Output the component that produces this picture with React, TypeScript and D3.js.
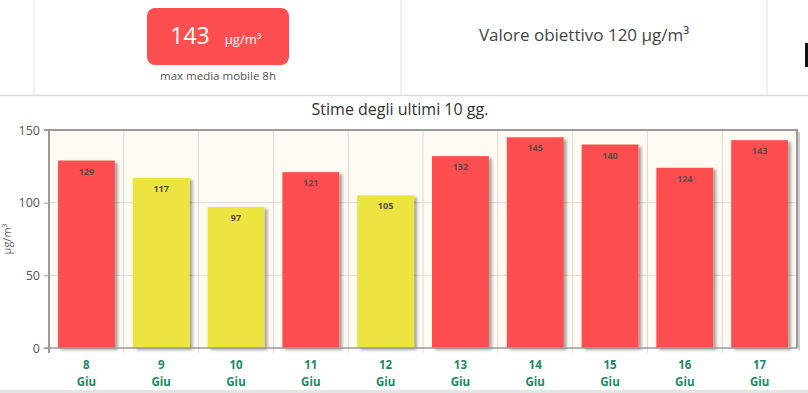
import * as d3 from 'd3';
import { useRef, useEffect } from 'react';

const days = ['8', '9', '10', '11', '12', '13', '14', '15', '16', '17'];
const months = ['Giu', 'Giu', 'Giu', 'Giu', 'Giu', 'Giu', 'Giu', 'Giu', 'Giu', 'Giu'];
const values = [129, 117, 97, 121, 105, 132, 145, 140, 124, 143];
const yTicks = [0, 50, 100, 150];
const threshold = 120;
const maxValue = 143;

const App = () => {
  const svgRef = useRef<SVGSVGElement>(null);

  useEffect(() => {
    const svg = d3.select(svgRef.current);
    const width = 808;
    const height = 393;
    const margin = { top: 130, right: 11, bottom: 45, left: 49 };
    const font = '"Open Sans", "Noto Sans", sans-serif';
    const red = '#fd4f4f';
    const yellow = '#ece43f';

    svg.attr('width', width).attr('height', height).style('font-family', font);
    svg.selectAll('*').remove();

    const defs = svg.append('defs');
    const shadow = defs.append('filter').attr('id', 'barShadow')
      .attr('x', '-10%').attr('y', '-10%').attr('width', '130%').attr('height', '130%');
    shadow.append('feDropShadow')
      .attr('dx', 3).attr('dy', 2).attr('stdDeviation', 1.5)
      .attr('flood-color', '#000').attr('flood-opacity', 0.35);

    // header
    const header = svg.append('g');
    header.append('rect').attr('width', width).attr('height', 95).attr('fill', '#fff');
    [34, 401, 767].forEach(x => {
      header.append('line').attr('x1', x).attr('x2', x).attr('y1', 0).attr('y2', 95)
        .attr('stroke', '#e2e2e2');
    });
    header.append('line').attr('x1', 0).attr('x2', width).attr('y1', 95.5).attr('y2', 95.5)
      .attr('stroke', '#dcdcdc').attr('stroke-width', 1.5);
    header.append('rect').attr('x', 147).attr('y', 8).attr('width', 142).attr('height', 57)
      .attr('rx', 8).attr('fill', red);
    header.append('text').attr('x', 190).attr('y', 44).attr('text-anchor', 'middle')
      .attr('fill', '#fff').style('font-size', '23px').text(maxValue);
    header.append('text').attr('x', 243).attr('y', 44).attr('text-anchor', 'middle')
      .attr('fill', '#fff').style('font-size', '13px').text('μg/m³');
    header.append('text').attr('x', 218).attr('y', 80).attr('text-anchor', 'middle')
      .attr('fill', '#555').style('font-size', '11.5px').text('max media mobile 8h');
    header.append('text').attr('x', 584).attr('y', 41).attr('text-anchor', 'middle')
      .attr('fill', '#444').style('font-size', '17px').text(`Valore obiettivo ${threshold} μg/m³`);
    header.append('rect').attr('x', 805).attr('y', 43).attr('width', 3).attr('height', 24)
      .attr('fill', '#111');

    // chart
    const x = d3.scaleBand()
      .domain(days)
      .range([margin.left, width - margin.right])
      .paddingInner(0.24)
      .paddingOuter(0.12);

    const y = d3.scaleLinear()
      .domain([0, 150])
      .range([height - margin.bottom, margin.top]);

    const left = margin.left;
    const right = width - margin.right;
    const top = margin.top;
    const bottom = height - margin.bottom;
    const step = x.step();

    svg.append('text').attr('x', 400).attr('y', 115).attr('text-anchor', 'middle')
      .attr('fill', '#333').style('font-size', '16px').text('Stime degli ultimi 10 gg.');

    svg.append('rect').attr('x', left).attr('y', top).attr('width', right - left)
      .attr('height', bottom - top).attr('fill', '#fffbf3');

    // grid
    svg.append('g').selectAll('line')
      .data(yTicks.filter(d => d > 0 && d < 150))
      .enter().append('line')
      .attr('x1', left).attr('x2', right)
      .attr('y1', d => y(d)).attr('y2', d => y(d))
      .attr('stroke', '#dedede');

    svg.append('g').selectAll('line')
      .data(d3.range(1, days.length))
      .enter().append('line')
      .attr('x1', i => left + i * step).attr('x2', i => left + i * step)
      .attr('y1', top).attr('y2', bottom + 5)
      .attr('stroke', '#dadada');

    // bars
    svg.append('g').selectAll('rect')
      .data(values)
      .enter().append('rect')
      .attr('x', (d, i) => x(days[i]))
      .attr('y', d => y(d))
      .attr('width', x.bandwidth())
      .attr('height', d => y(0) - y(d))
      .attr('fill', d => d > threshold ? red : yellow)
      .attr('filter', 'url(#barShadow)');

    svg.append('g').selectAll('text')
      .data(values)
      .enter().append('text')
      .attr('x', (d, i) => x(days[i]) + x.bandwidth() / 2)
      .attr('y', d => y(d) + 14)
      .attr('text-anchor', 'middle')
      .attr('fill', '#5a4a44')
      .style('font-size', '9px')
      .style('font-weight', 'bold')
      .text(d => d);

    // frame
    const frame = svg.append('g').attr('stroke', '#9a9a9a').attr('fill', 'none');
    frame.append('line').attr('x1', left - 5).attr('x2', right + 1).attr('y1', top).attr('y2', top).attr('stroke-width', 2);
    frame.append('line').attr('x1', left).attr('x2', left).attr('y1', top).attr('y2', bottom + 5).attr('stroke-width', 2);
    frame.append('line').attr('x1', right).attr('x2', right).attr('y1', top).attr('y2', bottom).attr('stroke-width', 2);
    frame.append('line').attr('x1', left - 5).attr('x2', right).attr('y1', bottom).attr('y2', bottom).attr('stroke-width', 1.5);
    frame.append('line').attr('x1', right + 2).attr('x2', right + 2).attr('y1', top + 2).attr('y2', bottom + 2)
      .attr('stroke', '#ccc').attr('stroke-width', 2);

    // y axis
    const yAxisG = svg.append('g')
      .attr('transform', `translate(${left},0)`)
      .call(d3.axisLeft(y).tickValues(yTicks).tickSize(5).tickPadding(4));
    yAxisG.select('.domain').remove();
    yAxisG.selectAll('line').attr('stroke', '#9a9a9a');
    yAxisG.selectAll('text').attr('fill', '#555').style('font-size', '12.5px').style('font-family', font);

    svg.append('text')
      .attr('transform', `translate(11,${(top + bottom) / 2}) rotate(-90)`)
      .attr('text-anchor', 'middle')
      .attr('fill', '#666')
      .style('font-size', '11px')
      .text('μg/m³');

    // x labels
    const xLabels = svg.append('g').selectAll('g')
      .data(days)
      .enter().append('g')
      .attr('transform', d => `translate(${x(d) + x.bandwidth() / 2},0)`);
    xLabels.append('text').attr('y', 369).attr('text-anchor', 'middle')
      .attr('fill', '#1b8a62').style('font-size', '11.5px').style('font-weight', 'bold')
      .text(d => d);
    xLabels.append('text').attr('y', 386).attr('text-anchor', 'middle')
      .attr('fill', '#1b8a62').style('font-size', '11.5px').style('font-weight', 'bold')
      .text((d, i) => months[i]);

    svg.append('rect').attr('x', 0).attr('y', 390).attr('width', width).attr('height', 3)
      .attr('fill', '#e4e4e4');
  }, []);

  return (
    <div style={{ position: 'absolute', left: 0, top: 0 }}>
      <svg ref={svgRef} style={{ display: 'block' }}></svg>
    </div>
  );
};

export default App;
